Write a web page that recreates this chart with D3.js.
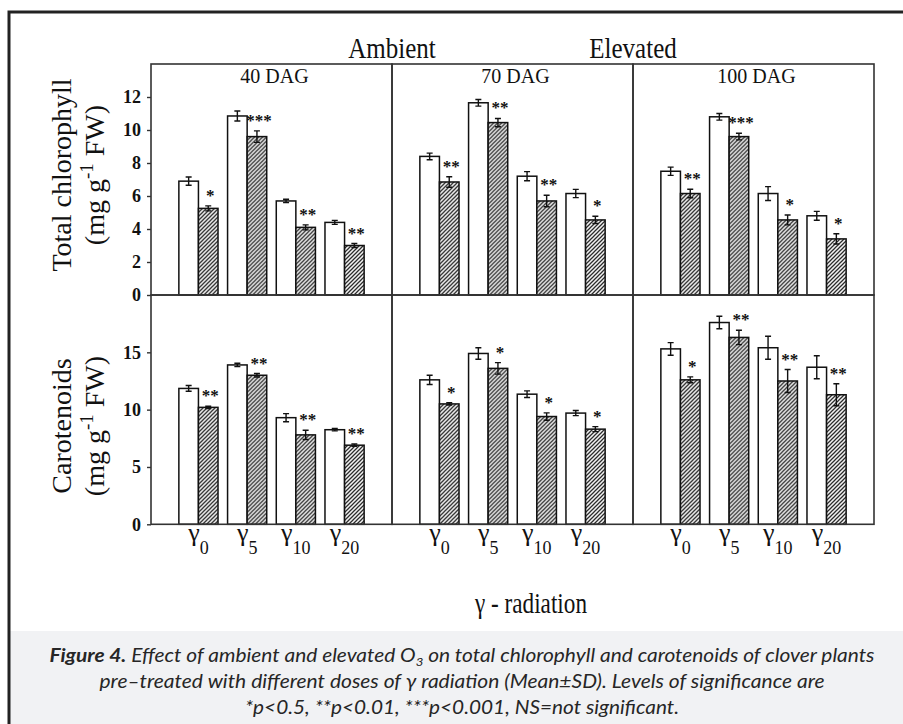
<!DOCTYPE html>
<meta charset="utf-8">
<title>Figure 4 | chlorophyll and carotenoids</title>
<head>
  <script src="https://d3js.org/d3.v7.min.js"></script>
  <style>
    body { margin: 0; background: #fff; }
    svg text { font-family: "Liberation Serif", "Times New Roman", serif; fill: #111; }
    .cap text { font-family: Lato, "Open Sans", sans-serif; font-style: italic; fill: #262626; }
  </style>
</head>
<body>
  <div id="chart"></div>
  <script>
    // panels, groups and treatments
    var dags = ["40 DAG", "70 DAG", "100 DAG"];
    var doses = ["0", "5", "10", "20"];
    var conditions = ["Ambient", "Elevated"];

    // total chlorophyll (mg g-1 FW), one row per DAG
    var chlAmbient = [[6.9, 10.85, 5.7, 4.4], [8.4, 11.65, 7.2, 6.15], [7.5, 10.8, 6.15, 4.8]];
    var chlElevated = [[5.25, 9.6, 4.1, 3.0], [6.85, 10.45, 5.7, 4.55], [6.15, 9.6, 4.55, 3.4]];
    var chlAmbientSD = [[0.25, 0.3, 0.1, 0.12], [0.2, 0.2, 0.28, 0.25], [0.25, 0.2, 0.42, 0.27]];
    var chlElevatedSD = [[0.15, 0.35, 0.15, 0.12], [0.32, 0.25, 0.35, 0.22], [0.26, 0.2, 0.3, 0.31]];
    var chlSig = [["*", "***", "**", "**"], ["**", "**", "**", "*"], ["**", "***", "*", "*"]];

    // carotenoids (mg g-1 FW)
    var carAmbient = [[11.85, 13.9, 9.3, 8.25], [12.6, 14.9, 11.35, 9.7], [15.3, 17.6, 15.4, 13.7]];
    var carElevated = [[10.2, 13.0, 7.8, 6.9], [10.5, 13.6, 9.4, 8.3], [12.6, 16.3, 12.5, 11.3]];
    var carAmbientSD = [[0.25, 0.15, 0.35, 0.1], [0.4, 0.5, 0.29, 0.22], [0.55, 0.55, 1.0, 1.0]];
    var carElevatedSD = [[0.1, 0.15, 0.4, 0.1], [0.1, 0.5, 0.32, 0.22], [0.26, 0.63, 1.0, 0.96]];
    var carSig = [["**", "**", "**", "**"], ["*", "*", "*", "*"], ["*", "**", "**", "**"]];

    var chlTicks = [0, 2, 4, 6, 8, 10, 12];
    var carTicks = [0, 5, 10, 15];

    var width = 903, height = 724;

    var svg = d3.select("#chart").append("svg")
      .attr("width", width)
      .attr("height", height);

    var defs = svg.append("defs");
    var pat = defs.append("pattern")
      .attr("id", "hatch")
      .attr("patternUnits", "userSpaceOnUse")
      .attr("width", 4)
      .attr("height", 4);
    pat.append("rect").attr("width", 4).attr("height", 4).attr("fill", "#f4f4f4");
    pat.append("path")
      .attr("d", "M-1,1 l2,-2 M0,4 l4,-4 M3,5 l2,-2")
      .attr("stroke", "#2a2a2a")
      .attr("stroke-width", 1.25);

    // outer frame + caption box
    svg.append("rect")
      .attr("x", 10).attr("y", 631).attr("width", width - 10).attr("height", height - 631)
      .attr("fill", "#f1f2f4");
    svg.append("path")
      .attr("d", "M9," + height + " V12 H" + width)
      .attr("fill", "none")
      .attr("stroke", "#222")
      .attr("stroke-width", 3);

    // scales
    var panelX = d3.scaleBand().domain(dags).range([151, 874]);
    var groupX = d3.scaleBand().domain(doses).range([0, panelX.bandwidth()])
      .paddingInner(0.196).paddingOuter(0.572);
    var barX = d3.scaleBand().domain(conditions).range([0, groupX.bandwidth()]);

    var yChl = d3.scaleLinear().domain([0, 14]).range([295, 64]);
    var yCar = d3.scaleLinear().domain([0, 20]).range([524.3, 295]);

    function drawRow(amb, elev, ambSD, elevSD, sig, y) {
      dags.forEach(function(dag, p) {
        var g = svg.append("g").attr("transform", "translate(" + panelX(dag) + ",0)");
        var data = doses.map(function(d, i) {
          return {
            dose: d,
            sig: sig[p][i],
            bars: [
              { c: "Ambient", v: amb[p][i], e: ambSD[p][i] },
              { c: "Elevated", v: elev[p][i], e: elevSD[p][i] }
            ]
          };
        });

        var grp = g.selectAll(".grp")
          .data(data)
          .enter().append("g")
          .attr("transform", function(d) { return "translate(" + groupX(d.dose) + ",0)"; });

        grp.selectAll("rect")
          .data(function(d) { return d.bars; })
          .enter().append("rect")
          .attr("x", function(d) { return barX(d.c); })
          .attr("y", function(d) { return y(d.v); })
          .attr("width", barX.bandwidth())
          .attr("height", function(d) { return y(0) - y(d.v); })
          .attr("fill", function(d) { return d.c == "Ambient" ? "#fff" : "url(#hatch)"; })
          .attr("stroke", "#111")
          .attr("stroke-width", 1.5);

        // error bars
        grp.selectAll(".eb")
          .data(function(d) { return d.bars; })
          .enter().append("path")
          .attr("d", function(d) {
            var cx = barX(d.c) + barX.bandwidth() / 2;
            var y1 = y(d.v + d.e), y2 = y(d.v - d.e);
            return "M" + cx + "," + y1 + " V" + y2 +
              " M" + (cx - 3) + "," + y1 + " h6 M" + (cx - 3) + "," + y2 + " h6";
          })
          .attr("fill", "none")
          .attr("stroke", "#111")
          .attr("stroke-width", 1.4);

        // significance stars above the elevated bar
        grp.append("text")
          .attr("x", barX("Elevated") + barX.bandwidth() / 2 + 2)
          .attr("y", function(d) { return y(d.bars[1].v + d.bars[1].e) - 5; })
          .attr("text-anchor", "middle")
          .style("font-size", "17px")
          .style("font-weight", "bold")
          .text(function(d) { return d.sig; });

        // panel frame
        g.append("rect")
          .attr("x", 0)
          .attr("y", y.range()[1])
          .attr("width", panelX.bandwidth())
          .attr("height", y.range()[0] - y.range()[1])
          .attr("fill", "none")
          .attr("stroke", "#333")
          .attr("stroke-width", 1.6);
      });
    }

    drawRow(chlAmbient, chlElevated, chlAmbientSD, chlElevatedSD, chlSig, yChl);
    drawRow(carAmbient, carElevated, carAmbientSD, carElevatedSD, carSig, yCar);

    // y axes
    function drawAxis(y, ticks) {
      var ax = svg.append("g")
        .attr("transform", "translate(151,0)")
        .call(d3.axisLeft(y).tickValues(ticks).tickSize(4).tickPadding(6).tickFormat(d3.format("d")));
      ax.select(".domain").remove();
      ax.selectAll("line").attr("stroke", "#333").attr("stroke-width", 1.4);
      ax.selectAll("text")
        .style("font-family", "'Liberation Serif', serif")
        .style("font-size", "18px")
        .style("font-weight", "bold")
        .attr("fill", "#111");
    }
    drawAxis(yChl, chlTicks);
    drawAxis(yCar, carTicks);

    // x labels: gamma doses under each group
    dags.forEach(function(dag) {
      doses.forEach(function(dose) {
        var t = svg.append("text")
          .attr("x", panelX(dag) + groupX(dose) + groupX.bandwidth() / 2)
          .attr("y", 541)
          .attr("text-anchor", "middle");
        t.append("tspan").style("font-size", "26px").text("γ");
        t.append("tspan").attr("dy", 13).style("font-size", "18px").text(dose);
      });
    });

    // panel titles
    svg.selectAll(".dag")
      .data(dags)
      .enter().append("text")
      .attr("transform", function(d) {
        return "translate(" + (panelX(d) + panelX.bandwidth() / 2 + 3) + ",83) scale(1,1.1)";
      })
      .attr("text-anchor", "middle")
      .style("font-size", "20px")
      .text(function(d) { return d; });

    // Ambient / Elevated headers sit over the panel dividers
    svg.selectAll(".cond")
      .data(conditions)
      .enter().append("text")
      .attr("transform", function(d, i) {
        return "translate(" + panelX(dags[i + 1]) + ",58) scale(1,1.15)";
      })
      .attr("text-anchor", "middle")
      .style("font-size", "25px")
      .text(function(d) { return d; });

    // y titles
    function yTitle(line1, cy) {
      svg.append("text")
        .attr("transform", "translate(71," + cy + ") rotate(-90)")
        .attr("text-anchor", "middle")
        .style("font-size", "28px")
        .text(line1);
      var t = svg.append("text")
        .attr("transform", "translate(104," + cy + ") rotate(-90)")
        .attr("text-anchor", "middle")
        .style("font-size", "28px");
      t.append("tspan").text("(mg g");
      t.append("tspan").attr("dy", -11).style("font-size", "19px").text("-1");
      t.append("tspan").attr("dy", 11).text(" FW)");
    }
    yTitle("Total chlorophyll", 175);
    yTitle("Carotenoids", 426);

    svg.append("text")
      .attr("x", 531)
      .attr("y", 613)
      .attr("text-anchor", "middle")
      .attr("textLength", 112)
      .attr("lengthAdjust", "spacingAndGlyphs")
      .style("font-size", "29px")
      .text("γ - radiation");

    // caption
    var cap = svg.append("g").attr("class", "cap");
    var l1 = cap.append("text")
      .attr("x", 462).attr("y", 662)
      .attr("text-anchor", "middle")
      .attr("textLength", 825)
      .attr("lengthAdjust", "spacingAndGlyphs")
      .style("font-size", "19px");
    l1.append("tspan").style("font-weight", "bold").text("Figure 4.");
    l1.append("tspan").text(" Effect of ambient and elevated O");
    l1.append("tspan").attr("dy", 4).style("font-size", "12px").text("3");
    l1.append("tspan").attr("dy", -4).text(" on total chlorophyll and carotenoids of clover plants");

    cap.append("text")
      .attr("x", 462).attr("y", 688)
      .attr("text-anchor", "middle")
      .attr("textLength", 725)
      .attr("lengthAdjust", "spacingAndGlyphs")
      .style("font-size", "19px")
      .text("pre\u2013treated with different doses of γ radiation (Mean±SD). Levels of significance are");

    cap.append("text")
      .attr("x", 462).attr("y", 714)
      .attr("text-anchor", "middle")
      .attr("textLength", 434)
      .attr("lengthAdjust", "spacingAndGlyphs")
      .style("font-size", "19px")
      .text("*p<0.5, **p<0.01, ***p<0.001, NS=not significant.");
  </script>
</body>
